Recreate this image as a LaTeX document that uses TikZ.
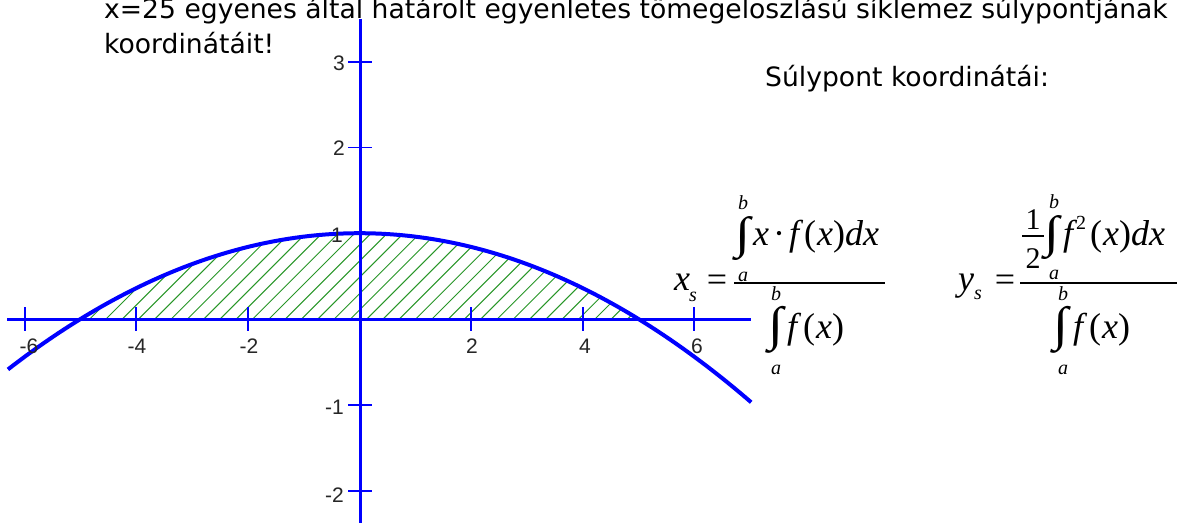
\documentclass[tikz,border=0pt]{standalone}
\usepackage{fontspec}
\usepackage{graphicx}
\setmainfont{DejaVu Sans}
\newfontfamily\tnr{Liberation Serif}
\newfontfamily\lab{Liberation Sans}
\definecolor{axblue}{RGB}{0,0,255}
\definecolor{hatchgreen}{RGB}{40,150,40}
\newcommand\numint{\resizebox*{15pt}{44pt}{\tnr ∫}}
\newcommand\denint{\resizebox*{15pt}{47pt}{\tnr ∫}}
\begin{document}
\begin{tikzpicture}[x=1pt,y=-1pt,
  axis/.style={draw=axblue, line width=3pt},
  tickmark/.style={draw=axblue, line width=1.8pt},
  curve/.style={draw=axblue, line width=4pt, line join=round},
  hatchline/.style={draw=hatchgreen, line width=1pt},
  ticklabel/.style={font=\lab\fontsize{21}{23}\selectfont, text=black!85, inner sep=0pt},
  heading/.style={font=\fontsize{26.6}{35}\selectfont, inner sep=0pt, anchor=base west},
  mth/.style={font=\tnr\fontsize{36}{38}\selectfont, inner sep=0pt},
  half/.style={font=\tnr\fontsize{30}{32}\selectfont, inner sep=0pt},
  lim/.style={font=\tnr\itshape\fontsize{20}{22}\selectfont, inner sep=0pt},
  fracbar/.style={draw=black, line width=1.3pt}]
\clip (0,0) rectangle (1180,523);
\fill[white] (0,0) rectangle (1180,523);

% hatched region
\begin{scope}
  \clip plot[domain=-5:5, samples=80] ({359.5+55.8*\x}, {319-85.8*(1-\x*\x/25)}) -- cycle;
  \foreach \k in {-7,...,36}
    \draw[hatchline] ({100+16.3*\k}, 325) -- ++(130,-130);
\end{scope}

% axes
\coordinate (xl) at (7,319);
\coordinate (xr) at (751,319);
\coordinate (yt) at (360,19);
\coordinate (yb) at (360,523);
\draw[axis] (xl) -- (xr);
\draw[axis] (yt) -- (yb);

% ticks
\foreach \k in {-6,-4,-2,2,4,6}
  \draw[tickmark] ({359.5+55.8*\k},307) -- ({359.5+55.8*\k},331);
\foreach \k in {-2,-1,1,2,3}
  \draw[tickmark] (348,{319-85.8*\k}) -- (372,{319-85.8*\k});

% curve
\draw[curve] plot[domain=-6.3:7.02, samples=120] ({359.5+55.8*\x}, {319-85.8*(1-\x*\x/25)});

% tick labels
\node[ticklabel] (lxm6) at (29,346) {-6};
\node[ticklabel] (lxm4) at (137,346) {-4};
\node[ticklabel] (lxm2) at (249,346) {-2};
\node[ticklabel] (lx2) at (472,346) {2};
\node[ticklabel] (lx4) at (585,346) {4};
\node[ticklabel] (lx6) at (697,346) {6};
\node[ticklabel, anchor=east] (ly3) at (345,63) {3};
\node[ticklabel, anchor=east] (ly2) at (345,148) {2};
\node[ticklabel, anchor=east] (ly1) at (343,235) {1};
\node[ticklabel, anchor=east] (lym1) at (344,407) {-1};
\node[ticklabel, anchor=east] (lym2) at (344,495) {-2};

% heading text
\node[heading] (t1) at (104,18) {x=25 egyenes által határolt egyenletes tömegeloszlású síklemez súlypontjának};
\node[heading] (t2) at (104,53) {koordinátáit!};
\node[heading] (t3) at (765,86) {Súlypont koordinátái:};

% x_s formula
\node[mth, anchor=base west] (xsx) at (674,290) {\itshape x};
\node[lim, anchor=base west] (xss) at (689,301) {s};
\node[mth] (xseq) at (717,283) {=};
\draw[fracbar] (734,283) -- (885,283);
\node[mth] (xsni) at (743,239) {\numint};
\node[lim] (xsnb) at (743,203) {b};
\node[lim] (xsna) at (743,277) {a};
\node[mth, anchor=base west] (xsnum) at (753,245) {\itshape x\hspace{4pt}\upshape·\hspace{4pt}\itshape f\hspace{5pt}\upshape(\hspace{1pt}\itshape x\upshape)\itshape dx};
\node[mth] (xsdi) at (776,330) {\denint};
\node[lim] (xsdb) at (776,294) {b};
\node[lim] (xsda) at (776,370) {a};
\node[mth, anchor=base west] (xsden) at (787,338) {\itshape f\hspace{6pt}\upshape(\hspace{1pt}\itshape x\upshape)};

% y_s formula
\node[mth, anchor=base west] (ysy) at (958,290) {\itshape y};
\node[lim, anchor=base west] (yss) at (974,299) {s};
\node[mth] (yseq) at (1005,283) {=};
\draw[fracbar] (1020,283) -- (1177,283);
\node[half] (ys1) at (1033,220) {1};
\draw[fracbar] (1022,236) -- (1044,236);
\node[half] (ys2) at (1033,259) {2};
\node[mth] (ysni) at (1052,238) {\numint};
\node[lim] (ysnb) at (1054,202) {b};
\node[lim] (ysna) at (1054,275) {a};
\node[mth, anchor=base west] (ysnum) at (1063,245) {\itshape f\hspace{3pt}\upshape\raisebox{0.42em}{\fontsize{20}{22}\selectfont 2}\hspace{4pt}(\hspace{1pt}\itshape x\upshape)\itshape dx};
\node[mth] (ysdi) at (1061,330) {\denint};
\node[lim] (ysdb) at (1063,294) {b};
\node[lim] (ysda) at (1063,370) {a};
\node[mth, anchor=base west] (ysden) at (1073,338) {\itshape f\hspace{6pt}\upshape(\hspace{1pt}\itshape x\upshape)};
\end{tikzpicture}
\end{document}
